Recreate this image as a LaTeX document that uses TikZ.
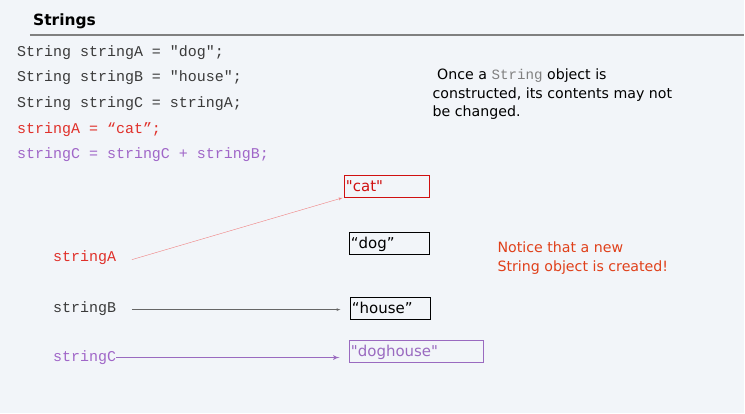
\documentclass[tikz,border=0pt]{standalone}
\usepackage{fontspec}
\setmainfont{DejaVu Sans}
\setmonofont{Liberation Mono}
\usetikzlibrary{arrows}
\definecolor{bgcol}{HTML}{F2F5F9}
\definecolor{codegray}{HTML}{3A3A3A}
\definecolor{codered}{HTML}{E0302A}
\definecolor{codepurple}{HTML}{A066C8}
\definecolor{noteorange}{HTML}{E0401A}
\definecolor{linered}{HTML}{F08080}
\definecolor{boxred}{HTML}{D01010}
\definecolor{boxpurple}{HTML}{9A6AC0}

\begin{document}
\begin{tikzpicture}
        [
        x=1pt,y=-1pt,
        code/.style={anchor=base west,inner sep=0pt,font=\fontsize{15}{17}\ttfamily},
        note/.style={anchor=north west,inner sep=0pt,align=left,font=\fontsize{14.2}{18.5}\selectfont},
        obj/.style={draw,thick,anchor=north west,minimum height=22pt,inner xsep=2pt,inner ysep=3pt,
          align=left,text depth=0pt,font=\fontsize{15}{17}\selectfont},
        ref/.style={->,> = latex',thin,shorten >=1pt}
        ]
    \fill[bgcol] (0,0) rectangle (745,414);
    \node[anchor=base west,inner sep=0pt,font=\fontsize{15.5}{18}\bfseries] (title) at (33,26) {Strings};
    \draw[line width=2pt,gray] (30,35) -- (745,35);
    % the code
    \node[code,codegray] (l1) at (17,57) {String stringA = "dog";};
    \node[code,codegray] (l2) at (17,82) {String stringB = "house";};
    \node[code,codegray] (l3) at (17,108) {String stringC = stringA;};
    \node[code,codered] (l4) at (17,134) {stringA = “cat”;};
    \node[code,codepurple] (l5) at (17,159) {stringC = stringC + stringB;};
    % notes
    \node[note] (n1) at (433,69) {\ Once a {\color{gray}\ttfamily String} object is\\constructed, its contents may not\\be changed.};
    \node[note,noteorange] (n2) at (498,242) {Notice that a new\\String object is created!};
    % objects
    \node[obj,boxred,text=boxred,text width=82pt] (cat) at (344,175) {\textquotedbl cat\textquotedbl};
    \node[obj,black,text width=77pt] (dog) at (349,232) {“dog”};
    \node[obj,black,text width=77pt] (house) at (350,297) {“house”};
    \node[obj,boxpurple,text=boxpurple,text width=131pt] (doghouse) at (349,340) {\textquotedbl doghouse\textquotedbl};
    % references
    \node[code,codered] (a) at (53,262) {stringA};
    \node[code,codegray] (b) at (53,313) {stringB};
    \node[code,codepurple] (c) at (53,362) {stringC};
    \coordinate (a0) at (132,260);
    \coordinate (b0) at (132,310);
    \coordinate (c0) at (116,358);
    \draw[ref,linered] (a0) -- (cat.south west);
    \draw[ref,gray!80!black,shorten >=9pt] (b0) -- (b0 -| house.west);
    \draw[ref,boxpurple,line width=1.2pt,shorten >=9pt] (c0) -- (c0 -| doghouse.west);
\end{tikzpicture}
\end{document}
